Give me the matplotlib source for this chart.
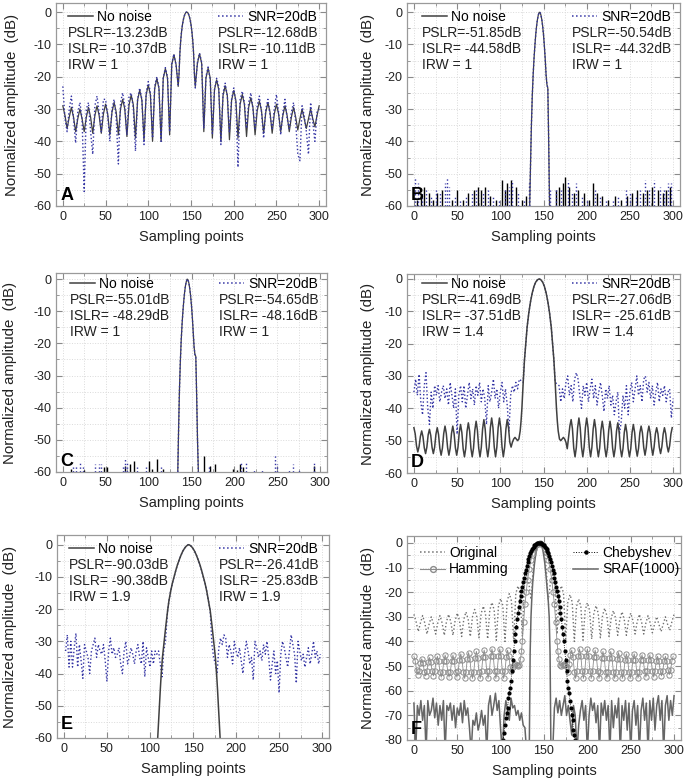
import numpy as np
import matplotlib
matplotlib.use('Agg')
import matplotlib.pyplot as plt
from matplotlib.lines import Line2D
from matplotlib.ticker import MultipleLocator

plt.rcParams['font.family'] = ['Liberation Sans', 'DejaVu Sans']
plt.rcParams['axes.unicode_minus'] = False

# ---------------- data ----------------
# A: no window (also "Original" in F)
a_x = np.concatenate([np.arange(0, 133, 2.5), np.arange(135, 156, 1), np.arange(157.5, 300.1, 2.5)])
a_clean = [-29, -32, -36, -32.5, -29.5, -32.5, -37, -33, -30, -33, -37, -32.5,
           -29.5, -32.5, -37.5, -32, -29, -32, -37.5, -31.5, -28.5, -31.5, -38, -31,
           -28, -31, -38, -30, -27, -30, -38.5, -28.7, -25.7, -28.7, -39, -27.2,
           -24.2, -27.2, -39.5, -25.6, -22.6, -25.6, -40, -23.6, -20.6, -23.6, -40, -20.5,
           -17.5, -20.5, -38, -16.2, -13.2, -16.2,
           -23, -19.2, -12.6, -8.7, -5.9, -3.9, -2.4, -1.33, -0.58, -0.14, 0,
           -0.14, -0.58, -1.33, -2.4, -3.9, -5.9, -8.7, -12.6, -19.2, -23,
           -15.9, -12.9, -15.9, -37, -20.4, -17.4, -20.4, -39, -24, -21, -24, -40,
           -25.8, -22.8, -25.8, -39.5, -27.3, -24.3, -27.3, -39, -28.5, -25.5, -28.5, -38.5,
           -29.5, -26.5, -29.5, -38, -30.5, -27.5, -30.5, -37.5, -31, -28, -31, -37.5,
           -31.5, -28.5, -31.5, -37, -32, -29, -32, -37, -32.5, -29.5, -32.5, -36.5,
           -33, -30, -33, -36, -33, -30, -33, -35.5, -32, -29]
a_noisy = [-23, -33, -37, -30, -26, -33, -40.5, -31, -28, -33, -55.5, -30,
           -28, -37, -44, -29, -26, -31, -37, -27, -27, -32, -40, -30,
           -27, -33, -47, -28, -25, -29, -38, -26, -25, -30, -43, -27,
           -23.5, -27, -41, -25, -21.5, -25, -39, -23, -20, -23.5, -40, -20.5,
           -17.2, -20, -37, -16, -13, -16.5,
           -22.5, -19, -12.5, -8.6, -5.9, -3.9, -2.4, -1.3, -0.6, -0.1, 0,
           -0.15, -0.6, -1.3, -2.4, -3.9, -5.9, -8.7, -12.7, -19, -23.5,
           -15.7, -12.7, -15.5, -36, -20, -17, -21, -37.5, -24, -20.5, -23, -41,
           -25, -22, -26, -37, -27, -23.5, -28, -48, -27, -24.5, -28, -36,
           -28, -25, -30, -36, -29, -26, -31, -39, -30, -27, -32, -36,
           -30, -25.5, -31, -38, -31, -27, -33, -36, -31, -28, -34, -44,
           -46, -29, -32, -37, -44, -28, -34, -40, -31, -30]

# B
b_lobe_x = np.arange(134, 158)
b_lobe = [-60, -47, -35, -26, -19.5, -14.5, -10.5, -7, -4.3, -2.3, -0.9, -0.1,
          -0.1, -0.9, -2.3, -4.3, -7, -10.5, -14.5, -19.5, -22.5, -23.5, -40, -60]
b_clean_sx = [3, 8, 12, 17, 22, 27, 33, 44, 50, 57, 63, 70, 74, 78, 82, 88, 95, 102, 106, 108,
              112, 118, 125, 130, 164, 168, 172, 175, 180, 185, 190, 197, 203, 207, 212, 218,
              225, 233, 240, 247, 253, 258, 265, 270, 276, 282, 288, 292, 297]
b_clean_sy = [-58, -57, -54, -56, -58, -56, -55, -58, -55, -58, -56, -55, -54, -55, -54, -57, -58, -52, -55, -53,
              -52, -54, -58, -57, -55, -54, -53, -51, -54, -56, -55, -56, -58, -53, -56, -57,
              -58, -57, -58, -57, -56, -55, -56, -55, -54, -55, -56, -55, -54]
b_noisy_sx = [1, 5, 9, 14, 20, 25, 30, 36, 38, 41, 47, 53, 60, 67, 72, 80, 86, 92, 98, 105,
              110, 113, 120, 128, 133, 158, 165, 170, 178, 183, 188, 195, 200, 210, 215,
              222, 230, 236, 245, 250, 257, 262, 267, 272, 278, 285, 290, 294, 298]
b_noisy_sy = [-51, -53, -56, -55, -57, -55, -56, -53, -51, -54, -57, -58, -57, -56, -55, -56, -55, -57, -58, -55,
              -54, -52, -56, -58, -53, -55, -55, -55, -52, -56, -53, -57, -58, -55, -57,
              -58, -58, -57, -55, -56, -57, -55, -52, -55, -52, -54, -55, -53, -53]

# C
c_lobe_x = np.arange(134, 159)
c_lobe = [-60, -46, -34, -25.5, -19, -14, -10, -6.7, -4, -2, -0.7, 0, -0.3, -1.3,
          -3, -5.3, -8.3, -12, -16.5, -21, -23.5, -24, -36, -50, -60]
c_clean_sx = [10, 25, 48, 52, 73, 78, 83, 100, 104, 110, 117, 165, 172, 177, 198, 203, 207, 210, 293]
c_clean_sy = [-59, -59.5, -58.5, -58.5, -58, -57.5, -56.5, -56.5, -59, -56, -59, -55, -58, -57.5,
              -59, -59.5, -57.5, -58.5, -58]
c_noisy_sx = [12, 15, 20, 23, 38, 42, 45, 70, 73, 75, 86, 97, 115, 170, 208, 213, 223, 232,
              247, 250, 264, 268, 275, 293]
c_noisy_sy = [-58.5, -58, -57, -58, -57.5, -57.5, -57.5, -58, -55.5, -57, -58.5, -58.5, -58.5, -58,
              -57, -56.5, -59.5, -59, -54.5, -57.5, -59, -57.5, -59.5, -57]

# D: Hamming (also "Hamming" in F)
d_lx = np.arange(0, 122, 1.5)
d_clean_l = [-46.0, -47.9, -51.6, -53.5, -51.8, -48.7, -47.0, -48.8, -52.2, -54.0, -52.0, -48.2,
             -46.5, -48.4, -52.1, -54.0, -52.0, -48.0, -46.0, -48.1, -52.4, -54.5, -52.3, -47.8,
             -45.5, -47.8, -52.2, -54.5, -52.3, -47.8, -45.5, -47.8, -52.2, -54.5, -52.1, -47.4,
             -45.0, -47.5, -52.5, -55.0, -52.4, -47.1, -44.5, -47.1, -52.4, -55.0, -52.3, -46.8,
             -44.0, -46.8, -52.3, -55.0, -52.1, -46.4, -43.5, -46.4, -52.1, -55.0, -52.0, -46.0,
             -43.0, -46.0, -52.0, -55.0, -52.0, -46.0, -43.0, -46.0, -52.0, -55.0, -52.1, -46.4,
             -43.5, -46.0, -50.5, -52.0, -50.5, -49.5, -49.0, -49.5, -50.0, -49.5]
d_lobe_x = [123, 124, 125, 126.5, 128, 129.5, 131, 133, 135, 137, 139, 141, 143, 145,
            147, 149, 151, 153, 155, 157, 159, 160.5, 162, 163.5, 165, 166, 167]
d_lobe = [-47, -44, -40, -32, -25, -20, -15, -10.5, -7, -4.3, -2.3, -1, -0.3, 0,
          -0.3, -1, -2.3, -4.3, -7, -10.5, -15, -20, -25, -32, -40, -44, -47]
d_rx = np.arange(168.5, 300, 1.5)
d_clean_r = [-49.5, -50.0, -49.5, -49.0, -49.5, -50.5, -52.5, -49.0, -45.5,
             -43.5, -46.3, -52.3, -55.0, -52.1, -46.0, -43.0, -46.0, -52.0, -55.0, -52.0, -46.0,
             -43.0, -46.0, -52.0, -55.0, -52.1, -46.4, -43.5, -46.4, -52.1, -55.0, -52.3, -46.8,
             -44.0, -46.8, -52.3, -55.0, -52.3, -46.8, -44.0, -46.8, -52.3, -55.0, -52.4, -47.1,
             -44.5, -47.1, -52.4, -55.0, -52.5, -47.5, -45.0, -47.5, -52.5, -55.0, -52.5, -47.5,
             -45.0, -47.5, -52.4, -54.8, -52.4, -47.6, -45.5, -47.6, -52.1, -54.5, -52.1, -47.6,
             -45.5, -47.6, -52.0, -54.5, -52.0, -47.9, -46.0, -47.9, -52.0, -54.0, -51.9, -48.0,
             -46.0, -47.9, -51.6, -53.5, -51.6, -47.9, -46.0]
d_nlx = np.arange(0, 123, 2)
d_noisy_l = [-35, -31, -36, -29.5, -38, -42, -33, -29, -40, -45, -35, -40, -33, -36, -33, -38,
             -35, -33, -37, -34, -39, -32, -36, -40, -34, -48, -36, -33, -38, -33, -40, -36,
             -32, -37, -34, -39, -33, -36, -32, -38, -34, -37, -45, -33, -38, -35, -31, -37,
             -34, -40, -35, -32, -38, -34, -39, -47, -36, -33, -35, -32, -34, -31]
d_nrx = np.arange(168, 301, 2)
d_noisy_r = [-33, -38, -34, -37, -32, -30, -36, -33, -38, -31, -29, -31, -36, -40, -33, -36,
             -32, -38, -34, -31, -37, -33, -39, -35, -32, -36, -41, -34, -37, -33, -39, -36,
             -42, -38, -35, -48, -44, -36, -40, -33, -42, -35, -32, -38, -34, -30, -36, -33,
             -38, -31, -30, -35, -32, -37, -33, -39, -35, -32, -38, -34, -36, -33, -38, -35,
             -34, -43, -37]

# E
e_x = [109, 110, 111, 112, 113, 114.5, 116.5, 118.5, 120.5, 122, 124, 126, 128, 130, 132,
       134, 136, 138, 140, 142, 144, 145, 146, 148, 150, 152, 154, 156, 158, 160, 162, 164,
       166, 168, 170, 172, 174, 176, 177.5, 178.5, 179.5, 180.5, 181.5]
e_clean = [-60, -55, -50, -45, -40.5, -35, -30, -25, -20.5, -17.5, -14.5, -12, -10, -8, -6.2,
           -4.7, -3.3, -2.1, -1.2, -0.5, -0.1, 0, -0.1, -0.5, -1.2, -2.1, -3.3, -4.7, -6.2, -8,
           -10, -12, -14.5, -17.5, -20.5, -25, -30, -35, -40.5, -45, -50, -55, -60]
e_nlx = np.arange(2, 119, 2)
e_noisy_l = [-33, -28, -38, -30, -38, -32, -27.5, -38, -31, -36, -41.5, -31, -33, -35, -40,
             -33, -31, -29, -35, -31, -33, -34, -31, -36, -42.5, -33, -29, -34, -32, -35,
             -34, -32, -37, -40, -33, -30, -37, -35, -32, -34, -37, -33, -31, -35, -37,
             -30, -41, -32, -35, -38, -33, -37, -33, -34, -33, -37, -41, -33, -30]
e_nrx = np.arange(172, 299, 2)
e_noisy_r = [-31, -35, -37, -40, -32, -29, -31, -28, -29, -35, -31, -33, -37, -30, -33, -35,
             -32, -36, -40, -34, -30, -33, -37, -35, -42, -30, -32, -35, -33, -36, -31, -34,
             -30, -35, -42, -37, -33, -40, -36, -46, -34, -30, -32, -35, -38, -33, -28, -31,
             -34, -43, -30, -33, -36, -34, -38, -35, -32, -37, -34, -30, -35, -33, -37, -34]

# F
cheb_x = np.arange(103, 187)
cheb = [-80, -77, -74, -71, -69, -67, -63, -61, -59, -56, -52, -47.5, -44, -40, -37, -34,
        -31, -28.5, -26, -23.5, -21.5, -19.5, -17.7, -15.9, -14.1, -12.4, -10.8, -9.3, -7.9,
        -6.5, -5.3, -4.3, -3.4, -2.6, -2.0, -1.5, -1.0, -0.7, -0.4, -0.2, -0.1, 0, 0, -0.1,
        -0.2, -0.4, -0.7, -1.0, -1.5, -2.0, -2.6, -3.4, -4.3, -5.3, -6.5, -7.9, -9.3, -10.8,
        -12.4, -14.1, -15.9, -17.7, -19.5, -21.5, -23.5, -26, -28.5, -31, -34, -37, -40, -44,
        -47.5, -52, -56, -59, -61, -64, -67, -70, -72, -76, -78, -80]
sraf_lx = np.arange(0, 133, 2)
sraf_l = [-65, -85, -66, -70, -64, -72, -66, -85, -64, -70, -68, -63, -71, -65, -74, -66,
          -72, -64, -85, -66, -68, -65, -72, -66, -75, -67, -70, -65, -73, -64, -70, -67,
          -75, -85, -72, -74, -69, -76, -73, -68, -74, -70, -85, -66, -62, -70, -66, -61,
          -68, -64, -76, -85, -70, -64, -68, -72, -63, -67, -66, -70, -68, -72, -69, -74,
          -75, -85, -85]
sraf_cx = np.arange(133, 159)
sraf_c = [-85, -45, -30, -22, -16, -12, -8.5, -5.8, -3.6, -2, -0.8, -0.2, 0, -0.2, -0.8,
          -2, -3.6, -5.8, -8.5, -12, -16, -20, -24, -30, -45, -85]
sraf_rx = np.arange(160, 301, 2)
sraf_r = [-85, -67, -63, -69, -64, -70, -66, -62, -70, -66, -72, -78, -66, -70, -85, -74,
          -68, -64, -72, -66, -85, -70, -63, -68, -65, -73, -66, -85, -65, -70, -64, -72,
          -66, -85, -64, -75, -66, -71, -63, -85, -66, -72, -64, -76, -65, -85, -68, -64,
          -74, -66, -85, -68, -63, -72, -65, -85, -64, -72, -63, -76, -66, -62, -72, -64,
          -85, -66, -62, -72, -64, -70, -62]

stats_text = {
    'A': (['PSLR=-13.23dB', 'ISLR= -10.37dB', 'IRW = 1'], ['PSLR=-12.68dB', 'ISLR= -10.11dB', 'IRW = 1']),
    'B': (['PSLR=-51.85dB', 'ISLR= -44.58dB', 'IRW = 1'], ['PSLR=-50.54dB', 'ISLR= -44.32dB', 'IRW = 1']),
    'C': (['PSLR=-55.01dB', 'ISLR= -48.29dB', 'IRW = 1'], ['PSLR=-54.65dB', 'ISLR= -48.16dB', 'IRW = 1']),
    'D': (['PSLR=-41.69dB', 'ISLR= -37.51dB', 'IRW = 1.4'], ['PSLR=-27.06dB', 'ISLR= -25.61dB', 'IRW = 1.4']),
    'E': (['PSLR=-90.03dB', 'ISLR= -90.38dB', 'IRW = 1.9'], ['PSLR=-26.41dB', 'ISLR= -25.83dB', 'IRW = 1.9']),
}

# ---------------- styling ----------------
CLEAN = '#404040'
NOISY = '#3434a4'
TXT = 10
W, H = 685, 782
fig = plt.figure(figsize=(W / 100, H / 100), dpi=100)


def make_ax(box, ylo=-60, yhi=2.5, ylab_px=44):
    l, t, r, b = box
    ax = fig.add_axes([l / W, 1 - b / H, (r - l) / W, (b - t) / H])
    ax.set_xlim(-8, 308)
    ax.set_ylim(ylo, yhi)
    ax.xaxis.set_major_locator(MultipleLocator(50))
    ax.xaxis.set_minor_locator(MultipleLocator(25))
    ax.yaxis.set_major_locator(MultipleLocator(10))
    ax.yaxis.set_minor_locator(MultipleLocator(5))
    ax.tick_params(which='both', direction='in', top=True, right=True,
                   color='#8a8a8a', labelcolor='#222222', labelsize=9)
    ax.tick_params(which='major', length=4, width=0.8)
    ax.tick_params(which='minor', length=2, width=0.6)
    for s in ax.spines.values():
        s.set_color('#9a9a9a')
        s.set_linewidth(0.9)
    ax.grid(True, which='both', color='#dadada', linestyle=':', linewidth=0.7)
    ax.set_axisbelow(True)
    ax.set_xlabel('Sampling points', fontsize=10.5, color='#222222', labelpad=5)
    ax.set_ylabel('Normalized amplitude  (dB)', fontsize=10.8, color='#222222')
    ax.yaxis.set_label_coords(-(ylab_px - 7) / (r - l), 0.5)
    return ax


def add_text(ax, box, key, row0, xl, xr):
    l, t, r, b = box
    w, h = r - l, b - t
    y1 = 1 - row0 / h
    lg1 = ax.legend([Line2D([], [], color=CLEAN, lw=1.1)], ['No noise'], loc='center left',
                    bbox_to_anchor=(xl / w, y1), borderpad=0, borderaxespad=0, frameon=False,
                    handlelength=1.8, handletextpad=0.3, fontsize=TXT)
    ax.add_artist(lg1)
    ax.legend([Line2D([], [], color=NOISY, lw=1.1, ls=':')], ['SNR=20dB'], loc='center left',
              bbox_to_anchor=(xr / w, y1), borderpad=0, borderaxespad=0, frameon=False,
              handlelength=1.8, handletextpad=0.3, fontsize=TXT)
    left, right = stats_text[key]
    for i in range(3):
        yy = 1 - (row0 + 16 * (i + 1)) / h
        ax.text(xl / w, yy, left[i], transform=ax.transAxes, va='center', ha='left',
                fontsize=TXT, color='#222222')
        ax.text(xr / w, yy, right[i], transform=ax.transAxes, va='center', ha='left',
                fontsize=TXT, color='#222222')


def letter(ax, s, x=0.015, y=0.012):
    ax.text(x, y, s, transform=ax.transAxes, fontsize=13, fontweight='bold',
            va='bottom', ha='left', color='black')


# ---------------- A ----------------
boxA = (56, 3, 326, 206)
ax = make_ax(boxA, yhi=2.8)
ax.plot(a_x, a_clean, color=CLEAN, lw=0.9)
ax.plot(a_x, a_noisy, color=NOISY, lw=1.0, ls=':')
add_text(ax, boxA, 'A', 14, 12, 162)
letter(ax, 'A')

# ---------------- B ----------------
boxB = (407, 3, 680, 206)
ax = make_ax(boxB, yhi=2.8, ylab_px=39)
ax.vlines(b_clean_sx, -60, b_clean_sy, color='black', lw=1.0)
ax.vlines(b_noisy_sx, -60, b_noisy_sy, color=NOISY, lw=1.0, linestyles=':')
ax.plot(b_lobe_x, b_lobe, color=CLEAN, lw=0.9)
ax.plot(b_lobe_x, b_lobe, color=NOISY, lw=1.0, ls=':')
add_text(ax, boxB, 'B', 14, 15, 165)
letter(ax, 'B')

# ---------------- C ----------------
boxC = (56, 273, 327, 472)
ax = make_ax(boxC, yhi=1.9, ylab_px=46)
ax.vlines(c_clean_sx, -60, c_clean_sy, color='black', lw=1.0)
ax.vlines(c_noisy_sx, -60, c_noisy_sy, color=NOISY, lw=1.0, linestyles=':')
ax.plot(c_lobe_x, c_lobe, color=CLEAN, lw=0.9)
ax.plot(c_lobe_x, c_lobe, color=NOISY, lw=1.0, ls=':')
add_text(ax, boxC, 'C', 11, 14, 163)
letter(ax, 'C')

# ---------------- D ----------------
boxD = (407, 274, 680, 473)
ax = make_ax(boxD, yhi=1.5, ylab_px=39)
d_x = np.concatenate([d_lx, d_lobe_x, d_rx])
d_clean = d_clean_l + d_lobe + d_clean_r
dn_x = np.concatenate([d_nlx, d_lobe_x[3:-3], d_nrx])
dn_y = d_noisy_l + d_lobe[3:-3] + d_noisy_r
ax.plot(dn_x, dn_y, color=NOISY, lw=1.0, ls=':')
ax.plot(d_x, d_clean, color=CLEAN, lw=1.1)
add_text(ax, boxD, 'D', 10, 15, 165)
letter(ax, 'D')

# ---------------- E ----------------
boxE = (57, 535, 329, 738)
ax = make_ax(boxE, yhi=3, ylab_px=47)
en_x = np.concatenate([e_nlx, e_x[8:35], e_nrx])
en_y = e_noisy_l + e_clean[8:35] + e_noisy_r
ax.plot(en_x, en_y, color=NOISY, lw=1.0, ls=':')
ax.plot(e_x, e_clean, color=CLEAN, lw=1.1)
add_text(ax, boxE, 'E', 14, 12, 162)
letter(ax, 'E', y=0.025)

# ---------------- F ----------------
boxF = (407, 536, 681, 740)
ax = make_ax(boxF, ylo=-80, yhi=2.8, ylab_px=39)
ORIG, HAM, SRAF = '#707070', '#8c8c8c', '#666666'
sx = np.concatenate([sraf_lx, sraf_cx, sraf_rx])
sy = sraf_l + sraf_c + sraf_r
ax.plot(sx, sy, color=SRAF, lw=1.1)
ax.plot(a_x, a_clean, color=ORIG, lw=1.0, ls=':')
ax.plot(d_x, d_clean, color=HAM, lw=0.6, marker='o', mfc='none', mec=HAM, ms=3.8, mew=0.7)
ax.plot(cheb_x, cheb, color='black', lw=0.6, ls=':', marker='o', ms=2.0)
w, h = boxF[2] - boxF[0], boxF[3] - boxF[1]
lg = ax.legend([Line2D([], [], color=ORIG, lw=1.1, ls=':'),
                Line2D([], [], color=HAM, lw=0.8, marker='o', mfc='none', ms=4.2)],
               ['Original', 'Hamming'], loc='center left', bbox_to_anchor=(13 / w, 1 - 25 / h),
               borderpad=0, borderaxespad=0, frameon=False, handlelength=1.8,
               handletextpad=0.3, labelspacing=0.2, fontsize=TXT, numpoints=1)
ax.add_artist(lg)
ax.legend([Line2D([], [], color='black', lw=0.7, ls=':', marker='o', ms=2.2),
           Line2D([], [], color=SRAF, lw=1.1)],
          ['Chebyshev', 'SRAF(1000)'], loc='center left', bbox_to_anchor=(166 / w, 1 - 25 / h),
          borderpad=0, borderaxespad=0, frameon=False, handlelength=1.8,
          handletextpad=0.3, labelspacing=0.2, fontsize=TXT, numpoints=1)
letter(ax, 'F')

fig.savefig('out.png', dpi=100)
